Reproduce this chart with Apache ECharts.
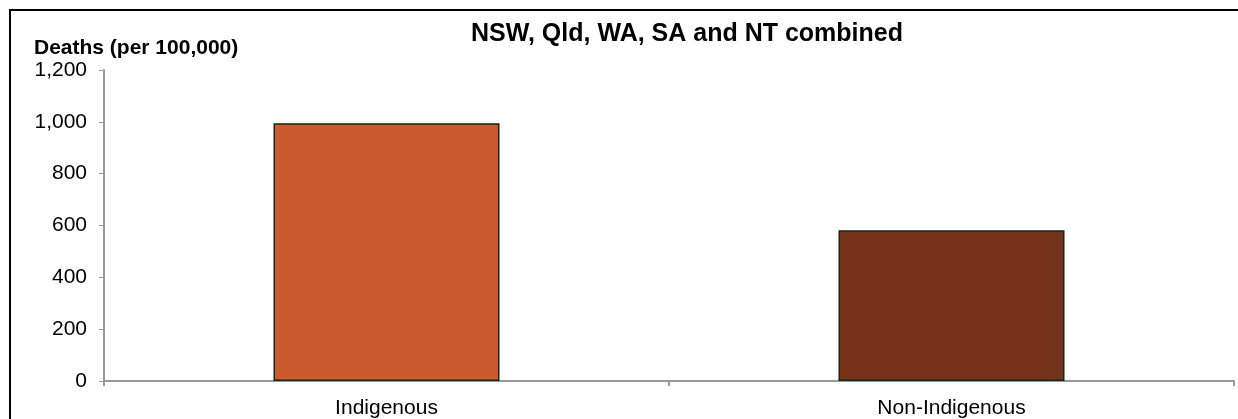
<!DOCTYPE html>
<html>
<head>
<meta charset="utf-8">
<script src="https://cdn.jsdelivr.net/npm/echarts@6/dist/echarts.min.js"></script>
<style>
html,body{margin:0;padding:0;background:#fff;}
#chart{width:1238px;height:419px;}
</style>
</head>
<body>
<div id="chart"></div>
<script>
const categories = ['Indigenous', 'Non-Indigenous'];
const deathRates = [995, 582];
const barColors = ['#CB5A2F', '#74331A'];
const yTicks = [0, 200, 400, 600, 800, 1000, 1200];

const chart = echarts.init(document.getElementById('chart'));
const font = 'Liberation Sans, Arial, sans-serif';
chart.setOption({
  animation: false,
  backgroundColor: '#fff',
  title: {
    text: 'NSW, Qld, WA, SA and NT combined',
    left: 687, top: 22, padding: 0, textAlign: 'center',
    textStyle: {fontFamily: font, fontSize: 25, fontWeight: 'bold', color: '#000'}
  },
  graphic: [
    {type: 'rect', shape: {x: 10, y: 10, width: 1240, height: 420},
     style: {fill: 'none', stroke: '#000', lineWidth: 2}, silent: true, z: 100}
  ],
  grid: {left: 104, right: 4, top: 70, bottom: 38, containLabel: false},
  xAxis: {
    type: 'category',
    data: categories,
    axisLine: {lineStyle: {color: '#999', width: 2}},
    axisTick: {show: true, length: 5, lineStyle: {color: '#999', width: 2}},
    axisLabel: {fontFamily: font, fontSize: 21, color: '#000', margin: 17}
  },
  yAxis: {
    type: 'value',
    min: yTicks[0], max: yTicks[yTicks.length - 1], interval: 200,
    name: 'Deaths (per 100,000)',
    nameLocation: 'end',
    nameGap: 11,
    nameTextStyle: {fontFamily: font, fontSize: 21, fontWeight: 'bold', color: '#000', align: 'left', padding: [0, 0, 0, -70]},
    axisLine: {show: true, lineStyle: {color: '#999', width: 2}},
    axisTick: {show: true, length: 5, lineStyle: {color: '#999', width: 1}},
    splitLine: {show: false},
    axisLabel: {fontFamily: font, fontSize: 21, color: '#000', margin: 17,
      formatter: v => v.toLocaleString('en-US')}
  },
  series: [{
    type: 'bar',
    barWidth: '40%',
    data: deathRates.map((v, i) => ({value: v, itemStyle: {color: barColors[i]}})),
    itemStyle: {borderColor: '#0E2A18', borderWidth: 1.5}
  }]
});
</script>
</body>
</html>
